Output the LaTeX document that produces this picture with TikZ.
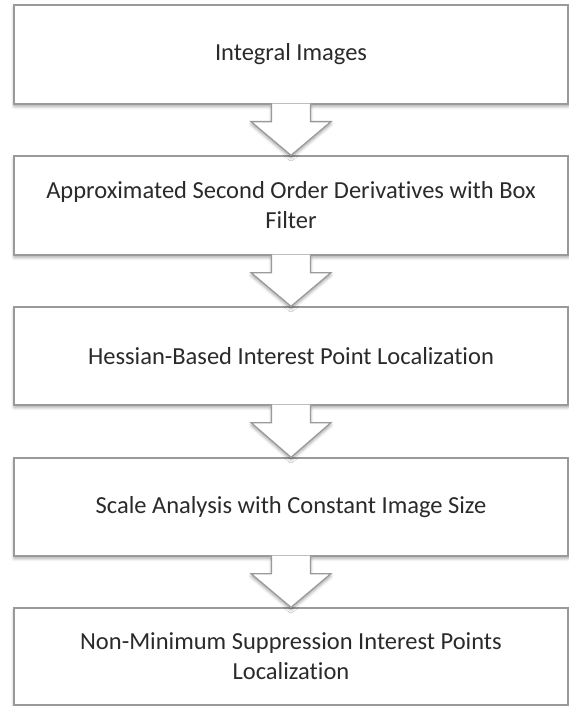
\documentclass[tikz,border=0pt]{standalone}
\usepackage{fontspec}
\setmainfont{Carlito}[Ligatures={NoCommon,NoRequired,NoContextual}]
\usetikzlibrary{shadows.blur}

\definecolor{edgegray}{HTML}{9A9A9A}
\definecolor{inkgray}{HTML}{2A2A2A}

\tikzset{
  stagebox/.style={
    draw=edgegray, line width=1.3pt, fill=white,
    minimum width=554pt, minimum height=98pt,
    align=center, text=inkgray,
    font=\fontsize{24.5}{30}\selectfont,
    blur shadow={shadow xshift=0pt, shadow yshift=-2.5pt,
                 shadow blur radius=3pt, shadow blur steps=6,
                 shadow opacity=35}
  },
  flowarrow/.style={
    draw=edgegray, line width=1.3pt, fill=white, line join=miter,
    blur shadow={shadow xshift=0pt, shadow yshift=-2.5pt,
                 shadow blur radius=3pt, shadow blur steps=6,
                 shadow opacity=35}
  }
}

% hollow block arrow hanging from one box to the next
\newcommand{\flowstep}[2]{%
  \path[flowarrow]
    ([xshift=-19.5pt,yshift=1pt]#1.south) --
    ([xshift=-19.5pt,yshift=-17pt]#1.south) --
    ([xshift=-40pt,yshift=-17pt]#1.south) --
    (#2.north) --
    ([xshift=40pt,yshift=-17pt]#1.south) --
    ([xshift=19.5pt,yshift=-17pt]#1.south) --
    ([xshift=19.5pt,yshift=1pt]#1.south);
}

\begin{document}
\begin{tikzpicture}[x=1pt,y=-1pt]
  \useasboundingbox (0,0) rectangle (569,706);

  \node[stagebox, minimum height=99pt] (b1) at (291,54.5) {Integral Images};
  \node[stagebox, minimum height=99pt] (b2) at (291,205.5)
    {Approximated Second Order Derivatives with Box\\Filter};
  \node[stagebox] (b3) at (291,356) {Hessian-Based Interest Point Localization};
  \node[stagebox] (b4) at (291,507) {Scale Analysis with Constant Image Size};
  \node[stagebox, minimum height=97pt] (b5) at (291,656.5)
    {Non-Minimum Suppression Interest Points\\Localization};

  \flowstep{b1}{b2}
  \flowstep{b2}{b3}
  \flowstep{b3}{b4}
  \flowstep{b4}{b5}
\end{tikzpicture}
\end{document}
